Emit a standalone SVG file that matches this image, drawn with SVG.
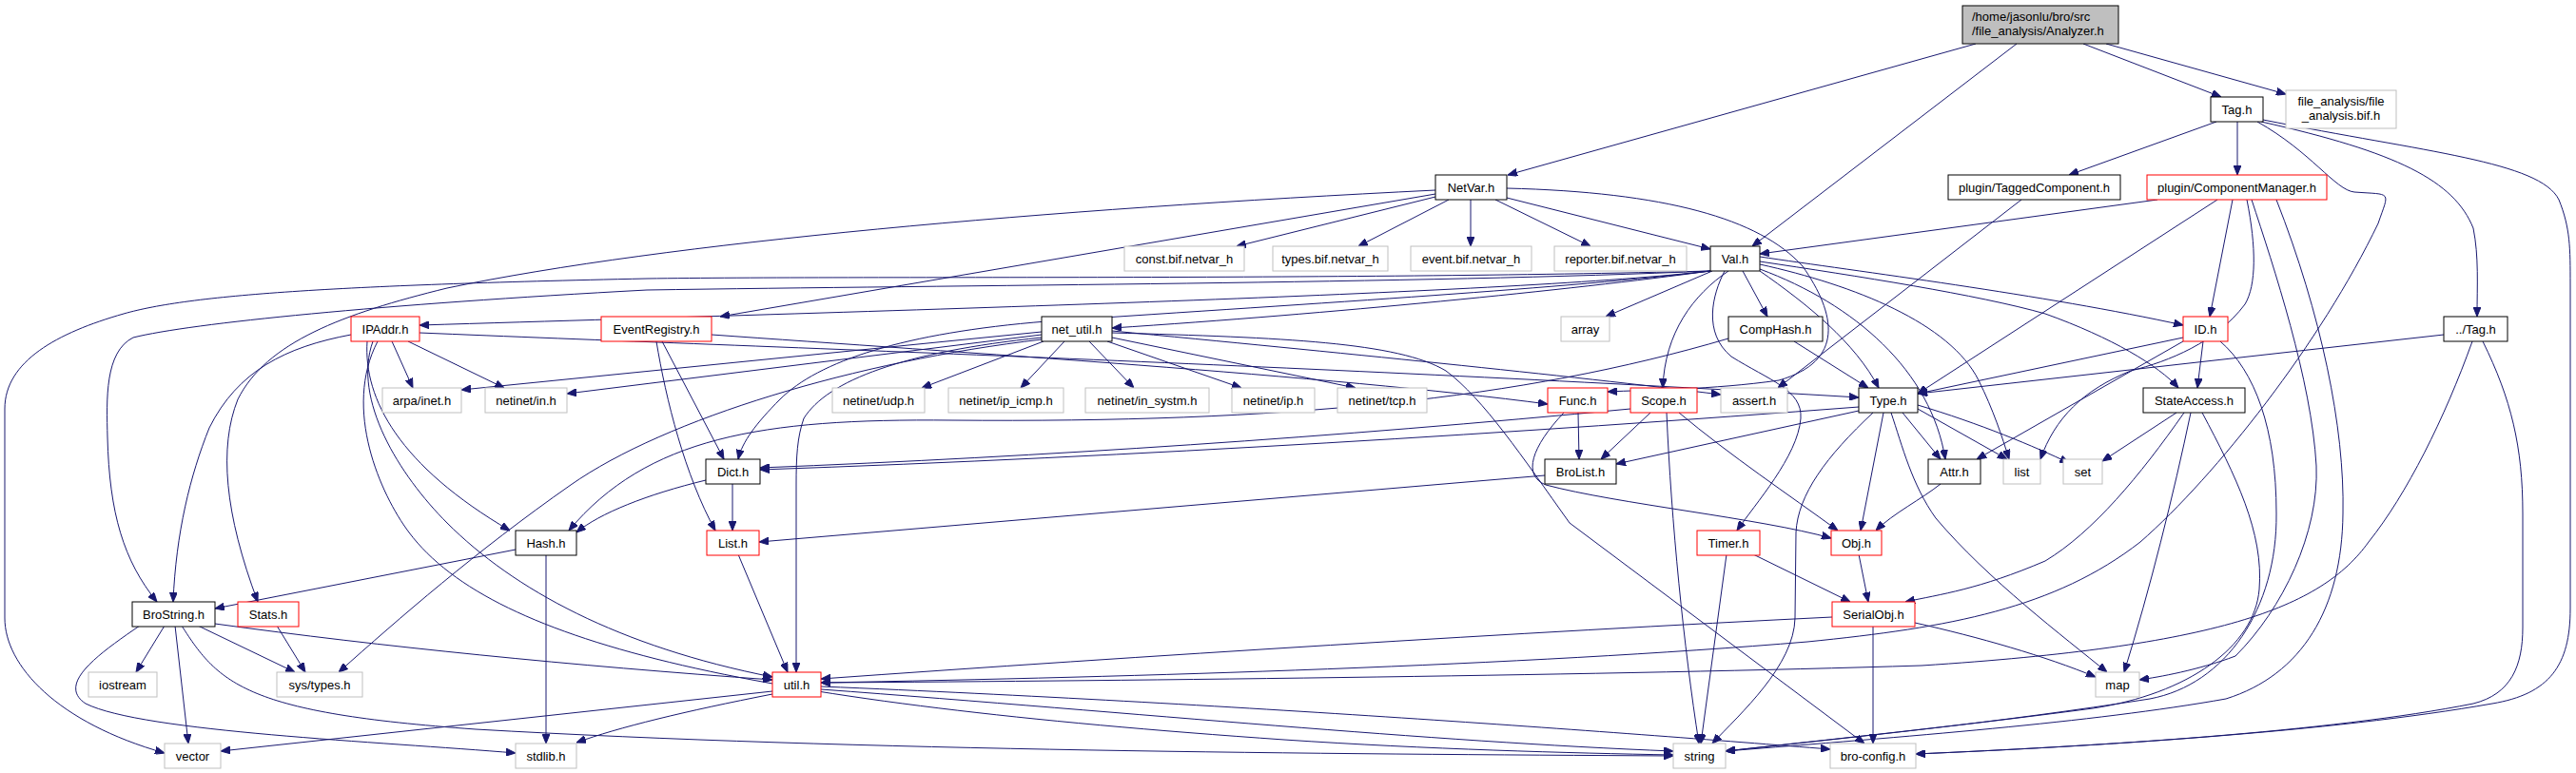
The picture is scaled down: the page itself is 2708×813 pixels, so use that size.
<svg xmlns="http://www.w3.org/2000/svg" width="2708" height="813" viewBox="0 0 2708 813">
<style>
text{font-family:"Liberation Sans",Arial,sans-serif;font-size:13px;fill:#000;text-anchor:middle}
.nb rect{fill:#fff;stroke:#000;stroke-width:1}
.nr rect{fill:#fff;stroke:#ff0000;stroke-width:1}
.ng rect{fill:#fff;stroke:#bfbfbf;stroke-width:1}
#edges path{fill:none;stroke:#191970;stroke-width:1;marker-end:url(#ah)}
</style>
<defs>
<marker id="ah" viewBox="0 0 10 8" refX="10" refY="4" markerWidth="10" markerHeight="8" markerUnits="userSpaceOnUse" orient="auto">
<path d="M0,0 L10,4 L0,8 z" fill="#191970" stroke="#191970"/>
</marker>
</defs>
<rect x="0" y="0" width="2708" height="813" fill="#fff"/>
<g id="edges">
<path d="M2077,46 L1585,184"/>
<path d="M2120,46 L1842,259"/>
<path d="M2190,46 L2335,102"/>
<path d="M2214,46 L2403,99"/>
<path d="M2330,128 L2175,184"/>
<path d="M2352,128 L2352,184"/>
<path d="M2373,128 C2430,160 2455,200 2475,202 C2515,205 2512,200 2500,235 C2440,360 2330,500 2250,570 C2160,640 2050,660 1900,675 C1600,700 1200,712 863,718"/>
<path d="M2377,128 C2520,160 2580,190 2600,240 C2606,270 2604,300 2604,333"/>
<path d="M2379,126 C2550,160 2670,170 2690,210 C2702,240 2702,260 2702,300 L2702,640 C2702,700 2680,730 2620,740 C2450,770 2200,785 2014,793"/>
<path d="M2610,359 C2640,420 2652,470 2652,540 L2652,660 C2652,700 2640,730 2600,740 C2450,770 2200,785 2014,793"/>
<path d="M2599,359 C2570,440 2530,520 2490,570 C2440,640 2330,680 2020,700 C1700,710 1200,716 863,718"/>
<path d="M2569,352 L2016,414"/>
<path d="M2125,210 L1869,408"/>
<path d="M2268,210 L1850,267"/>
<path d="M2331,210 L2016,414"/>
<path d="M2347,210 L2323,333"/>
<path d="M2362,210 C2372,260 2372,300 2360,320 C2330,360 2280,380 2240,390 C2190,410 2160,440 2145,483"/>
<path d="M2367,210 C2390,280 2430,400 2435,490 C2438,560 2400,640 2350,690 C2310,705 2270,712 2249,715"/>
<path d="M2393,210 C2440,330 2465,450 2463,540 C2462,640 2420,710 2340,735 C2200,760 2000,775 1814,790"/>
<path d="M2316,359 L2310,408"/>
<path d="M2295,355 L2016,414"/>
<path d="M2295,359 L2078,483"/>
<path d="M2334,359 C2370,390 2393,450 2393,540 C2394,640 2340,720 2260,735 C2100,760 1950,775 1814,790"/>
<path d="M2288,434 L2210,485"/>
<path d="M2296,434 C2250,500 2200,560 2150,590 C2080,620 2040,625 2003,633"/>
<path d="M2303,434 C2285,520 2260,620 2233,707"/>
<path d="M2315,434 C2350,500 2380,560 2375,620 C2370,680 2300,730 2200,745 C2050,765 1900,780 1814,790"/>
<path d="M1850,270 C1950,285 2150,310 2295,342"/>
<path d="M1850,275 C1950,290 2080,310 2150,330 C2220,355 2270,385 2290,408"/>
<path d="M1850,278 C1950,300 2050,340 2080,400 C2095,430 2105,460 2112,483"/>
<path d="M1850,283 C1950,320 2030,390 2045,483"/>
<path d="M1850,285 C1900,320 1950,360 1975,408"/>
<path d="M1832,285 L1858,333"/>
<path d="M1800,285 L1688,333"/>
<path d="M1817,285 C1780,310 1750,350 1748,408"/>
<path d="M1813,285 C1800,310 1790,350 1820,375 C1860,400 1895,410 1893,440 C1890,480 1845,530 1826,558"/>
<path d="M1798,285 C1650,305 1400,330 1169,345"/>
<path d="M1798,285 C1650,303 1400,318 1100,338 C950,350 860,380 820,420 C795,445 780,465 776,483"/>
<path d="M1798,285 C1600,308 1000,325 441,342"/>
<path d="M1798,285 C1500,298 1000,300 680,305 C400,320 200,340 140,355 C110,370 112,420 113,460 C115,540 130,590 165,633"/>
<path d="M1798,285 C1400,295 900,290 680,293 C350,300 200,310 130,330 C60,350 5,380 5,430 L5,650 C5,700 60,760 173,792"/>
<path d="M1584,208 L1798,262"/>
<path d="M1509,207 L1300,259"/>
<path d="M1523,210 L1428,259"/>
<path d="M1546,210 L1546,259"/>
<path d="M1572,210 L1672,259"/>
<path d="M1509,204 L757,333"/>
<path d="M1509,200 C1100,220 700,255 470,303 C360,330 280,360 250,420 C230,470 236,540 271,633"/>
<path d="M1584,198 C1750,202 1850,230 1895,280 C1930,330 1940,380 1870,400 C1800,410 1730,410 1690,412"/>
<path d="M748,352 C1000,370 1400,395 1627,425"/>
<path d="M696,359 L761,483"/>
<path d="M690,359 C700,420 720,500 752,558"/>
<path d="M412,359 L434,408"/>
<path d="M429,359 L530,408"/>
<path d="M441,350 C800,365 1400,385 1954,418"/>
<path d="M386,359 C382,420 420,490 536,558"/>
<path d="M369,352 C300,365 250,390 220,450 C200,500 185,560 182,633"/>
<path d="M392,359 C370,420 420,500 470,550 C540,620 650,680 812,712"/>
<path d="M397,359 C360,430 400,520 430,560 C520,680 800,740 1350,778 C1500,788 1650,792 1759,794"/>
<path d="M1097,359 L969,408"/>
<path d="M1119,359 L1073,408"/>
<path d="M1145,359 L1192,408"/>
<path d="M1164,359 L1305,408"/>
<path d="M1169,355 L1425,408"/>
<path d="M1169,348 C1400,370 1650,395 1809,415"/>
<path d="M1169,350 C1350,355 1470,360 1520,390 C1560,420 1600,480 1650,550 L1960,782"/>
<path d="M1095,352 L596,414"/>
<path d="M1095,349 L485,410"/>
<path d="M1095,355 C950,370 870,400 845,440 C838,460 837,480 837,510 L837,707"/>
<path d="M1095,357 C900,380 700,440 600,510 C500,580 420,650 356,707"/>
<path d="M1886,359 L1964,408"/>
<path d="M1817,356 C1600,420 1350,445 1000,442 C800,440 680,460 598,558"/>
<path d="M1954,428 C1600,455 1200,480 799,494"/>
<path d="M1954,432 L1699,488"/>
<path d="M1969,434 C1920,480 1890,520 1888,560 L1887,650 C1886,700 1830,750 1800,782"/>
<path d="M1980,434 L1956,558"/>
<path d="M1988,434 C2000,470 2010,510 2035,545 C2090,610 2170,670 2215,707"/>
<path d="M2000,434 L2040,483"/>
<path d="M2016,430 L2110,483"/>
<path d="M2016,426 C2080,445 2140,470 2175,487"/>
<path d="M1714,430 C1400,460 1100,480 799,492"/>
<path d="M1735,434 L1683,483"/>
<path d="M1765,434 C1820,480 1880,520 1932,558"/>
<path d="M1752,434 C1757,550 1770,680 1786,782"/>
<path d="M1659,434 L1660,483"/>
<path d="M1644,434 C1610,470 1600,500 1625,510 C1700,530 1850,545 1925,566"/>
<path d="M1624,500 L798,570"/>
<path d="M742,505 C680,520 630,540 606,560"/>
<path d="M770,509 L770,558"/>
<path d="M542,578 L226,640"/>
<path d="M574,583 L574,782"/>
<path d="M776,583 L828,707"/>
<path d="M812,727 L232,790"/>
<path d="M812,730 C720,748 650,765 606,781"/>
<path d="M863,725 C1200,750 1500,780 1759,790"/>
<path d="M863,722 C1300,740 1700,770 1924,788"/>
<path d="M1815,583 L1788,782"/>
<path d="M1843,583 L1945,633"/>
<path d="M1954,583 L1964,633"/>
<path d="M2040,509 C2020,525 1990,540 1972,558"/>
<path d="M1926,649 C1600,665 1200,690 863,714"/>
<path d="M2013,655 C2080,670 2150,690 2203,712"/>
<path d="M1969,658 L1969,782"/>
<path d="M173,658 L143,707"/>
<path d="M184,658 L198,782"/>
<path d="M208,658 L310,707"/>
<path d="M147,658 C100,690 60,720 90,740 C150,770 400,780 542,792"/>
<path d="M191,658 C230,720 260,750 500,767 C900,790 1400,793 1759,795"/>
<path d="M226,656 C400,680 600,700 812,715"/>
<path d="M291,658 L321,707"/>
</g>
<g id="n_analyzer" class="nb"><rect x="2063" y="6" width="164" height="40" style="fill:#bfbfbf"/><text x="2073" y="22" style="text-anchor:start">/home/jasonlu/bro/src</text><text x="2073" y="37" style="text-anchor:start">/file_analysis/Analyzer.h</text></g>
<g id="n_tag" class="nb"><rect x="2324" y="102" width="55" height="26"/><text x="2351.5" y="119.5">Tag.h</text></g>
<g id="n_fabif" class="ng"><rect x="2403" y="95" width="116" height="40"/><text x="2461" y="111">file_analysis/file</text><text x="2461" y="126">_analysis.bif.h</text></g>
<g id="n_tagged" class="nb"><rect x="2048" y="184" width="181" height="26"/><text x="2138.5" y="201.5">plugin/TaggedComponent.h</text></g>
<g id="n_compmgr" class="nr"><rect x="2257" y="184" width="189" height="26"/><text x="2351.5" y="201.5">plugin/ComponentManager.h</text></g>
<g id="n_netvar" class="nb"><rect x="1509" y="184" width="75" height="26"/><text x="1546.5" y="201.5">NetVar.h</text></g>
<g id="n_const" class="ng"><rect x="1182" y="259" width="126" height="26"/><text x="1245" y="276.5">const.bif.netvar_h</text></g>
<g id="n_types" class="ng"><rect x="1338" y="259" width="121" height="26"/><text x="1398.5" y="276.5">types.bif.netvar_h</text></g>
<g id="n_event" class="ng"><rect x="1483" y="259" width="127" height="26"/><text x="1546.5" y="276.5">event.bif.netvar_h</text></g>
<g id="n_reporter" class="ng"><rect x="1634" y="259" width="139" height="26"/><text x="1703.5" y="276.5">reporter.bif.netvar_h</text></g>
<g id="n_val" class="nb"><rect x="1798" y="259" width="52" height="26"/><text x="1824" y="276.5">Val.h</text></g>
<g id="n_ipaddr" class="nr"><rect x="369" y="333" width="72" height="26"/><text x="405" y="350.5">IPAddr.h</text></g>
<g id="n_eventreg" class="nr"><rect x="632" y="333" width="116" height="26"/><text x="690" y="350.5">EventRegistry.h</text></g>
<g id="n_netutil" class="nb"><rect x="1095" y="333" width="74" height="26"/><text x="1132" y="350.5">net_util.h</text></g>
<g id="n_array" class="ng"><rect x="1641" y="333" width="51" height="26"/><text x="1666.5" y="350.5">array</text></g>
<g id="n_comphash" class="nb"><rect x="1817" y="333" width="99" height="26"/><text x="1866.5" y="350.5">CompHash.h</text></g>
<g id="n_id" class="nr"><rect x="2295" y="333" width="47" height="26"/><text x="2318.5" y="350.5">ID.h</text></g>
<g id="n_uptag" class="nb"><rect x="2569" y="333" width="67" height="26"/><text x="2602.5" y="350.5">../Tag.h</text></g>
<g id="n_arpa" class="ng"><rect x="402" y="408" width="83" height="26"/><text x="443.5" y="425.5">arpa/inet.h</text></g>
<g id="n_netin" class="ng"><rect x="510" y="408" width="86" height="26"/><text x="553" y="425.5">netinet/in.h</text></g>
<g id="n_udp" class="ng"><rect x="875" y="408" width="97" height="26"/><text x="923.5" y="425.5">netinet/udp.h</text></g>
<g id="n_icmp" class="ng"><rect x="997" y="408" width="121" height="26"/><text x="1057.5" y="425.5">netinet/ip_icmp.h</text></g>
<g id="n_insystm" class="ng"><rect x="1141" y="408" width="130" height="26"/><text x="1206" y="425.5">netinet/in_systm.h</text></g>
<g id="n_ip" class="ng"><rect x="1295" y="408" width="87" height="26"/><text x="1338.5" y="425.5">netinet/ip.h</text></g>
<g id="n_tcp" class="ng"><rect x="1406" y="408" width="94" height="26"/><text x="1453" y="425.5">netinet/tcp.h</text></g>
<g id="n_func" class="nr"><rect x="1627" y="408" width="63" height="26"/><text x="1658.5" y="425.5">Func.h</text></g>
<g id="n_scope" class="nr"><rect x="1714" y="408" width="70" height="26"/><text x="1749" y="425.5">Scope.h</text></g>
<g id="n_assert" class="ng"><rect x="1809" y="408" width="70" height="26"/><text x="1844" y="425.5">assert.h</text></g>
<g id="n_type" class="nb"><rect x="1954" y="408" width="62" height="26"/><text x="1985" y="425.5">Type.h</text></g>
<g id="n_stateaccess" class="nb"><rect x="2253" y="408" width="107" height="26"/><text x="2306.5" y="425.5">StateAccess.h</text></g>
<g id="n_dict" class="nb"><rect x="742" y="483" width="57" height="26"/><text x="770.5" y="500.5">Dict.h</text></g>
<g id="n_brolist" class="nb"><rect x="1624" y="483" width="75" height="26"/><text x="1661.5" y="500.5">BroList.h</text></g>
<g id="n_attr" class="nb"><rect x="2027" y="483" width="55" height="26"/><text x="2054.5" y="500.5">Attr.h</text></g>
<g id="n_list" class="ng"><rect x="2106" y="483" width="39" height="26"/><text x="2125.5" y="500.5">list</text></g>
<g id="n_set" class="ng"><rect x="2169" y="483" width="41" height="26"/><text x="2189.5" y="500.5">set</text></g>
<g id="n_hash" class="nb"><rect x="542" y="558" width="64" height="26"/><text x="574" y="575.5">Hash.h</text></g>
<g id="n_listh" class="nr"><rect x="743" y="558" width="55" height="26"/><text x="770.5" y="575.5">List.h</text></g>
<g id="n_timer" class="nr"><rect x="1784" y="558" width="66" height="26"/><text x="1817" y="575.5">Timer.h</text></g>
<g id="n_obj" class="nr"><rect x="1925" y="558" width="53" height="26"/><text x="1951.5" y="575.5">Obj.h</text></g>
<g id="n_brostring" class="nb"><rect x="139" y="633" width="87" height="26"/><text x="182.5" y="650.5">BroString.h</text></g>
<g id="n_stats" class="nr"><rect x="250" y="633" width="64" height="26"/><text x="282" y="650.5">Stats.h</text></g>
<g id="n_serialobj" class="nr"><rect x="1926" y="633" width="87" height="26"/><text x="1969.5" y="650.5">SerialObj.h</text></g>
<g id="n_iostream" class="ng"><rect x="93" y="707" width="72" height="26"/><text x="129" y="724.5">iostream</text></g>
<g id="n_systypes" class="ng"><rect x="291" y="707" width="90" height="26"/><text x="336" y="724.5">sys/types.h</text></g>
<g id="n_util" class="nr"><rect x="812" y="707" width="51" height="26"/><text x="837.5" y="724.5">util.h</text></g>
<g id="n_map" class="ng"><rect x="2203" y="707" width="46" height="26"/><text x="2226" y="724.5">map</text></g>
<g id="n_vector" class="ng"><rect x="173" y="782" width="59" height="26"/><text x="202.5" y="799.5">vector</text></g>
<g id="n_stdlib" class="ng"><rect x="542" y="782" width="64" height="26"/><text x="574" y="799.5">stdlib.h</text></g>
<g id="n_string" class="ng"><rect x="1759" y="782" width="55" height="26"/><text x="1786.5" y="799.5">string</text></g>
<g id="n_broconfig" class="ng"><rect x="1924" y="782" width="90" height="26"/><text x="1969" y="799.5">bro-config.h</text></g>
</svg>
